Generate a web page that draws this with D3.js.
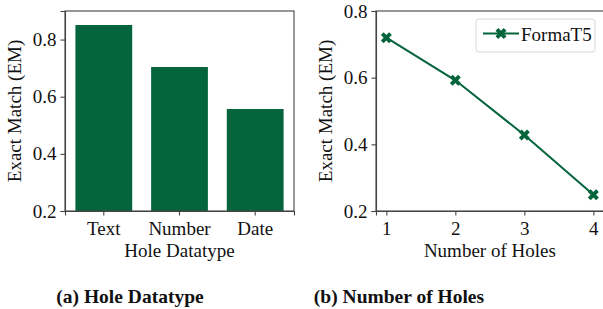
<!DOCTYPE html>
<html lang="en">
<head>
<meta charset="UTF-8">
<title>Hole Datatype / Number of Holes</title>
<style>
    body { margin: 0; background: #fff; }
    svg text { font-family: "Liberation Serif", "DejaVu Serif", serif; fill: #111; }
</style>
</head>
<body>
<div id="chart"></div>
<script src="https://d3js.org/d3.v7.min.js"></script>
<script>
// data
const datatypes = ["Text", "Number", "Date"];
const datatypeEM = [0.851, 0.704, 0.557];
const holes = [1, 2, 3, 4];
const holesEM = [0.72, 0.592, 0.428, 0.249];
const leftYTicks = [0.2, 0.4, 0.6, 0.8];
const rightYTicks = [0.2, 0.4, 0.6, 0.8];
const seriesName = "FormaT5";
const captions = ["(a) Hole Datatype", "(b) Number of Holes"];

const green = "#04643b";
const spine = "#444";
const fs = 19;

const svg = d3.select("#chart").append("svg")
    .attr("width", 603)
    .attr("height", 309);

// ---- left: bars ----
const L = { left: 65, right: 294, top: 11, bottom: 211 };

const xBand = d3.scaleBand()
    .domain(datatypes)
    .range([L.left, L.right])
    .paddingInner(0.25)
    .paddingOuter(0.1375);
const yL = d3.scaleLinear().domain([0.2, 0.9]).range([L.bottom, L.top]);

const gl = svg.append("g");
gl.selectAll("rect.bar")
    .data(datatypes)
    .enter().append("rect")
    .attr("class", "bar")
    .attr("x", d => xBand(d))
    .attr("width", xBand.bandwidth())
    .attr("y", (d, i) => yL(datatypeEM[i]))
    .attr("height", (d, i) => yL(0.2) - yL(datatypeEM[i]))
    .attr("fill", green);

gl.append("rect")
    .attr("x", L.left).attr("y", L.top)
    .attr("width", L.right - L.left).attr("height", L.bottom - L.top)
    .attr("fill", "none").attr("stroke", spine).attr("stroke-width", 1.1);

gl.append("g").attr("transform", `translate(${L.left},0)`)
    .call(d3.axisLeft(yL).tickValues(leftYTicks).tickFormat(d3.format(".1f")).tickSize(4.5).tickPadding(4));
gl.append("g").attr("transform", `translate(0,${L.bottom})`)
    .call(d3.axisBottom(xBand).tickSize(4.5).tickPadding(6));

gl.append("text")
    .attr("x", (L.left + L.right) / 2).attr("y", 257)
    .attr("text-anchor", "middle").attr("font-size", fs)
    .text("Hole Datatype");
gl.append("text")
    .attr("transform", `translate(21,${(L.top + L.bottom) / 2}) rotate(-90)`)
    .attr("text-anchor", "middle").attr("font-size", fs)
    .text("Exact Match (EM)");

// ---- right: line ----
const R = { left: 376, right: 603.7, top: 11, bottom: 211 };
const xR = d3.scaleLinear().domain([0.85, 4.15]).range([R.left, R.right]);
const yR = d3.scaleLinear().domain([0.2, 0.8]).range([R.bottom, R.top]);

const gr = svg.append("g");
gr.append("rect")
    .attr("x", R.left).attr("y", R.top)
    .attr("width", R.right - R.left).attr("height", R.bottom - R.top)
    .attr("fill", "none").attr("stroke", spine).attr("stroke-width", 1.1);

gr.append("g").attr("transform", `translate(${R.left},0)`)
    .call(d3.axisLeft(yR).tickValues(rightYTicks).tickFormat(d3.format(".1f")).tickSize(4.5).tickPadding(4));
gr.append("g").attr("transform", `translate(0,${R.bottom})`)
    .call(d3.axisBottom(xR).tickValues(holes).tickFormat(d3.format("d")).tickSize(4.5).tickPadding(6));

const line = d3.line().x((d, i) => xR(holes[i])).y(d => yR(d));
gr.append("path")
    .datum(holesEM)
    .attr("d", line)
    .attr("fill", "none").attr("stroke", green).attr("stroke-width", 2);

const marker = d3.symbol().type(d3.symbolCross).size(75);
gr.selectAll("path.pt")
    .data(holesEM)
    .enter().append("path")
    .attr("class", "pt")
    .attr("d", marker)
    .attr("transform", (d, i) => `translate(${xR(holes[i])},${yR(d)}) rotate(45)`)
    .attr("fill", green);

gr.append("text")
    .attr("x", (R.left + R.right) / 2).attr("y", 257)
    .attr("text-anchor", "middle").attr("font-size", fs)
    .text("Number of Holes");
gr.append("text")
    .attr("transform", `translate(332,${(R.top + R.bottom) / 2}) rotate(-90)`)
    .attr("text-anchor", "middle").attr("font-size", fs)
    .text("Exact Match (EM)");

// legend
const lg = gr.append("g");
lg.append("rect")
    .attr("x", 476).attr("y", 19).attr("width", 119).attr("height", 33)
    .attr("rx", 3).attr("fill", "#fff").attr("stroke", "#d8d8d8");
lg.append("line")
    .attr("x1", 483).attr("x2", 519).attr("y1", 33.5).attr("y2", 33.5)
    .attr("stroke", green).attr("stroke-width", 2);
lg.append("path")
    .attr("d", marker)
    .attr("transform", "translate(501,33.5) rotate(45)")
    .attr("fill", green);
lg.append("text")
    .attr("x", 521).attr("y", 40.5).attr("font-size", fs)
    .text(seriesName);

// axis styling
svg.selectAll(".domain").attr("stroke", spine).attr("stroke-width", 1.1);
svg.selectAll(".tick line").attr("stroke", spine).attr("stroke-width", 1.1);
svg.selectAll(".tick text")
    .attr("font-size", fs)
    .style("font-family", "'Liberation Serif', 'DejaVu Serif', serif")
    .attr("fill", "#111");

// captions
svg.selectAll("text.cap")
    .data(captions)
    .enter().append("text")
    .attr("class", "cap")
    .attr("x", (d, i) => i === 0 ? 130 : 399)
    .attr("y", 303)
    .attr("text-anchor", "middle")
    .attr("font-size", 19.5)
    .attr("font-weight", "bold")
    .text(d => d);
</script>
</body>
</html>
